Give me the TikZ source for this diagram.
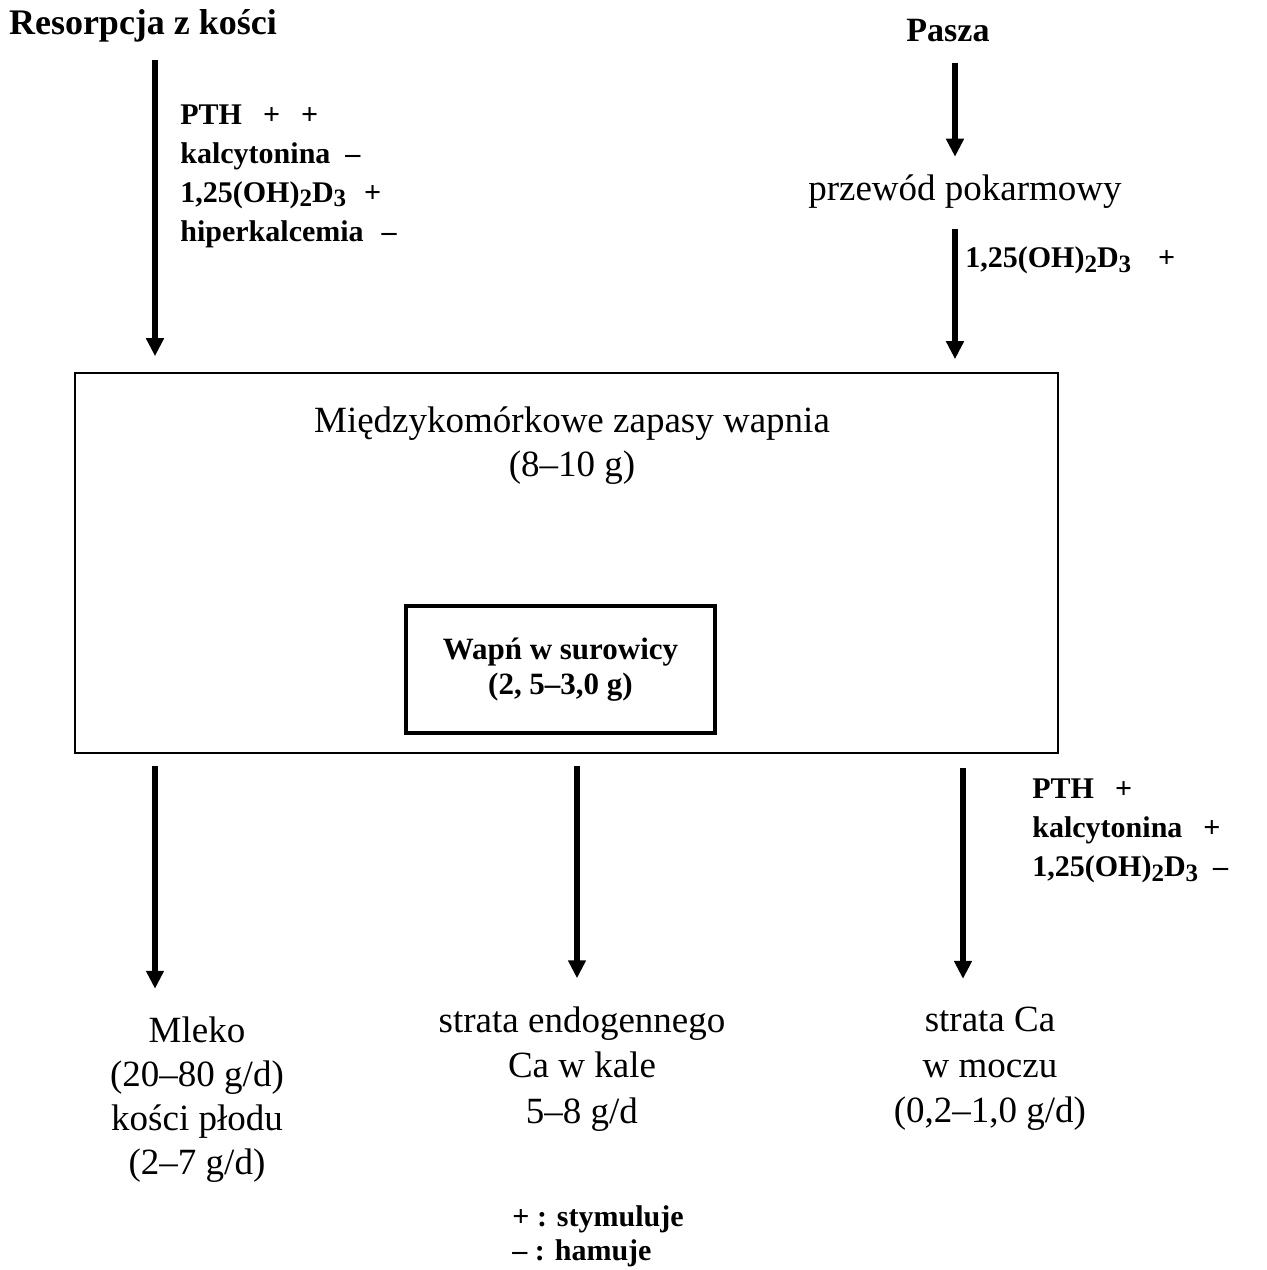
\documentclass[tikz,border=0pt]{standalone}
\usepackage{fontspec}
\setmainfont{Liberation Serif}
\usetikzlibrary{arrows.meta}

\newcommand{\lowsub}[1]{\raisebox{-0.35ex}{\fontsize{12.5}{12.5}\selectfont #1}}
\newcommand{\dhd}{1,25(OH)\lowsub{2}D\lowsub{3}}
\newcommand{\gap}[1]{\hspace{#1em}}

\begin{document}
\begin{tikzpicture}[x=0.5pt,y=-0.5pt,
    flow/.style={line width=3pt,-{Triangle[length=9pt,width=8.5pt]}},
    lbl/.style={anchor=west,align=left,inner sep=0pt,font=\bfseries\fontsize{15}{19.5}\selectfont},
    txt/.style={align=center,inner sep=0pt,font=\fontsize{18.5}{22}\selectfont}]
    \useasboundingbox (0,0) rectangle (1267,1270);

    % sources
    \node[txt,font=\bfseries\fontsize{18}{22}\selectfont] at (143,26) (res) {Resorpcja z kości};
    \node[txt,font=\bfseries\fontsize{17}{22}\selectfont] at (948,31) (pasza) {Pasza};
    \node[txt] at (965,192) (gut) {przewód pokarmowy};

    % pools
    \node[draw,line width=0.8pt,minimum width=491.5pt,minimum height=190pt,inner sep=0pt] at (566.5,563) (store) {};
    \node[txt] at (572,446) (storetxt) {Międzykomórkowe zapasy wapnia\\(8–10 g)};
    \node[draw,line width=2pt,minimum width=154.5pt,minimum height=63.5pt,align=center,inner sep=0pt,
          font=\bfseries\fontsize{15.5}{17.5}\selectfont] at (560.5,669.5) (serum) {Wapń w surowicy\\(2, 5–3,0 g)};

    % outputs
    \node[txt] at (197,1100) (milk) {Mleko\\(20–80 g/d)\\kości płodu\\(2–7 g/d)};
    \node[txt,font=\fontsize{18.5}{22.75}\selectfont] at (582,1069) (feces) {strata endogennego\\Ca w kale\\5–8 g/d};
    \node[txt,font=\fontsize{18.5}{22.75}\selectfont] at (990,1069) (urine) {strata Ca\\w moczu\\(0,2–1,0 g/d)};

    % regulators
    \node[lbl] at (180,176) (regres) {PTH\gap{0.7}+\gap{0.7}+\\kalcytonina\gap{0.5}–\\\dhd\gap{0.6}+\\hiperkalcemia\gap{0.6}–};
    \node[lbl] at (965,260) (reggut) {\dhd\gap{0.9}+};
    \node[lbl] at (1032,831) (regurine) {PTH\gap{0.7}+\\kalcytonina\gap{0.7}+\\\dhd\gap{0.5}–};
    \node[lbl,font=\bfseries\fontsize{15}{17}\selectfont] at (512,1236) (legend) {+ : stymuluje\\– : hamuje};

    % arrows
    \coordinate (a1) at (155,60);
    \coordinate (a2) at (955,0);
    \coordinate (b1) at (155,0);
    \coordinate (b2) at (577,0);
    \coordinate (b3) at (963,0);
    \draw[flow,shorten >=8pt] (a1) -- (a1 |- store.north);
    \draw[flow,shorten <=10pt,shorten >=9pt] (pasza.south -| a2) -- (gut.north -| a2);
    \draw[flow,shorten <=10pt,shorten >=6.5pt] (gut.south -| a2) -- (a2 |- store.north);
    \draw[flow,shorten <=6pt,shorten >=14pt] (store.south -| b1) -- (milk.north -| b1);
    \draw[flow,shorten <=6pt,shorten >=14pt] (store.south -| b2) -- (feces.north -| b2);
    \draw[flow,shorten <=7pt,shorten >=14pt] (store.south -| b3) -- (urine.north -| b3);

\end{tikzpicture}
\end{document}
